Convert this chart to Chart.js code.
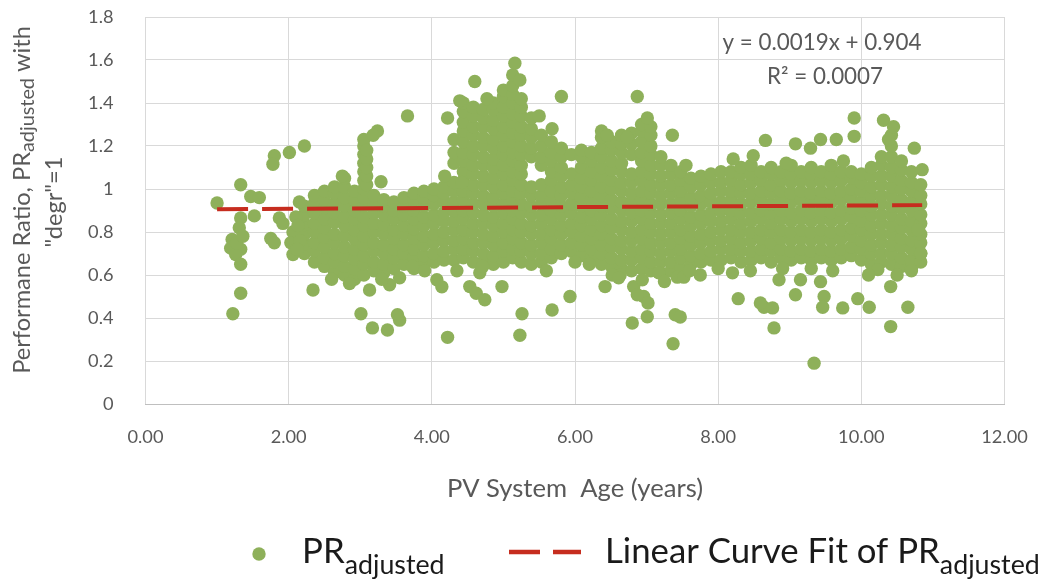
<!DOCTYPE html>
<html><head><meta charset="utf-8">
<script src="https://cdn.jsdelivr.net/npm/chart.js@4.4.1/dist/chart.umd.min.js"></script>
<style>html,body{margin:0;padding:0;background:#fff;}canvas{display:block;}</style>
</head><body>
<canvas id="c" width="1040" height="588"></canvas>
<script>
// ---------- DATA ----------
const xTickLabels = ['0.00','2.00','4.00','6.00','8.00','10.00','12.00'];
const yTickLabels = ['0','0.2','0.4','0.6','0.8','1','1.2','1.4','1.6','1.8'];

// isolated early points [age, PR]
const ageEarly = [
 [1.00,.935],[1.33,1.02],[1.47,.965],[1.59,.96],[1.52,.875],[1.33,.865],[1.31,.82],[1.21,.765],
 [1.19,.725],[1.33,.72],[1.26,.695],[1.33,.65],[1.33,.515],[1.22,.42],[1.27,.75],[1.36,.78],
 [1.75,.77],[1.80,.75],[1.80,1.155],[1.78,1.115],[2.01,1.17],[2.22,1.20],[1.87,.865],[1.92,.84],
 [2.06,.80],[2.03,.75],[2.06,.695],[2.15,.94],[2.10,.87],[2.13,.83],[2.16,.76],[2.12,.72]
];
// dense core, columns: [age, PR values...]
const coreAge2to4 = [
 [2.22,.70,.745,.79,.835,.88,.92],
 [2.36,.66,.71,.75,.80,.84,.89,.935,.97],
 [2.50,.64,.68,.73,.775,.82,.86,.91,.95,.99],
 [2.64,.61,.66,.70,.75,.79,.845,.89,.93,.98,1.01],
 [2.78,.60,.64,.69,.73,.78,.83,.87,.92,.96,1.01,1.05],
 [2.92,.58,.63,.675,.72,.77,.81,.86,.90,.95,.99],
 [3.05,.60,.65,.69,.74,.78,.83,.87,.92,.96,1.00,1.04,1.08,1.12,1.16,1.20,1.23],
 [3.09,1.02,1.06,1.10,1.14,1.18],
 [3.19,.62,.66,.71,.75,.80,.84,.89,.93,.97],
 [3.33,.61,.65,.70,.74,.79,.835,.88,.92,.95],
 [3.47,.63,.68,.72,.77,.81,.86,.90,.94],
 [3.61,.65,.70,.74,.79,.83,.88,.92,.96],
 [3.75,.63,.68,.72,.77,.815,.86,.90,.95,.98],
 [3.89,.65,.69,.74,.78,.83,.87,.92,.96,.99],
 [4.03,.66,.70,.75,.79,.84,.88,.93,.97,1.00]
];
const coreAge4to6 = [
 [4.17,.67,.71,.76,.80,.85,.89,.94,.98,1.01],
 [4.31,.67,.72,.76,.81,.85,.90,.94,.99,1.03,1.12,1.17,1.23],
 [4.44,.68,.72,.77,.81,.86,.90,.95,.99,1.04,1.08,1.13,1.17,1.22,1.27,1.31,1.36,1.40],
 [4.58,.66,.71,.75,.80,.84,.89,.93,.98,1.02,1.07,1.11,1.16,1.20,1.25,1.29,1.34,1.38],
 [4.72,.66,.70,.75,.79,.84,.88,.93,.97,1.02,1.06,1.11,1.15,1.20,1.24,1.29,1.33,1.37],
 [4.86,.65,.69,.74,.78,.83,.87,.92,.96,1.01,1.05,1.10,1.14,1.19,1.23,1.28,1.32,1.37,1.40],
 [5.00,.66,.71,.75,.80,.84,.89,.93,.98,1.02,1.07,1.11,1.16,1.20,1.25,1.29,1.34,1.38,1.43,1.46],
 [5.13,.68,.72,.77,.81,.86,.90,.95,.99,1.04,1.08,1.13,1.17,1.22,1.26,1.31,1.35,1.40,1.44,1.48,1.53],
 [5.25,.66,.71,.75,.80,.84,.89,.93,.98,1.02,1.07,1.11,1.16,1.20,1.25,1.29,1.34,1.38,1.42],
 [5.39,.65,.70,.74,.79,.83,.88,.92,.97,1.01,1.15,1.19,1.24,1.28,1.33],
 [5.53,.66,.70,.75,.79,.84,.88,.93,.97,1.02,1.11,1.15,1.20,1.25],
 [5.67,.68,.72,.77,.81,.86,.90,.95,.99,1.04,1.08,1.13,1.17,1.22],
 [5.81,.70,.74,.79,.83,.88,.92,.97,1.01,1.06,1.10,1.15,1.19],
 [5.95,.71,.75,.80,.84,.89,.93,.98,1.02,1.07,1.16]
];
const coreAge6to8 = [
 [6.09,.69,.74,.78,.83,.87,.92,.96,1.01,1.05,1.10,1.15,1.18],
 [6.23,.68,.72,.77,.81,.86,.90,.95,.99,1.04,1.08,1.13,1.17],
 [6.37,.65,.70,.74,.79,.83,.88,.92,.97,1.01,1.06,1.10,1.15,1.19,1.24,1.27],
 [6.51,.64,.68,.73,.77,.82,.86,.91,.95,1.00,1.04,1.09,1.13,1.18,1.22],
 [6.65,.63,.67,.72,.76,.81,.85,.90,.94,.99,1.03,1.08,1.12,1.17,1.21,1.25],
 [6.79,.62,.67,.71,.76,.80,.85,.89,.94,.98,1.03,1.07,1.16,1.21,1.26],
 [6.93,.63,.68,.72,.77,.81,.86,.90,.95,.99,1.04,1.08,1.13,1.17,1.22,1.27,1.30],
 [7.06,.62,.66,.71,.75,.80,.84,.89,.93,.98,1.02,1.07,1.11,1.16,1.20,1.25,1.29],
 [7.20,.61,.66,.70,.75,.79,.84,.88,.93,.97,1.02,1.06,1.11,1.15],
 [7.34,.62,.66,.71,.75,.80,.84,.89,.93,.98,1.02,1.07,1.11],
 [7.48,.63,.68,.72,.77,.81,.86,.90,.95,.99,1.04,1.08],
 [7.62,.65,.69,.74,.78,.83,.87,.92,.96,1.01,1.05],
 [7.76,.66,.70,.75,.79,.84,.88,.93,.97,1.02,1.06],
 [7.90,.67,.71,.76,.80,.85,.89,.94,.98,1.03,1.07],
 [8.04,.67,.72,.76,.81,.85,.90,.94,.99,1.03,1.08]
];
const coreAge8to11 = [
 [8.18,.68,.72,.77,.81,.86,.90,.95,.99,1.04,1.08],
 [8.32,.66,.71,.75,.80,.84,.89,.93,.98,1.02,1.07,1.10],
 [8.46,.67,.71,.76,.80,.85,.89,.94,.98,1.03,1.07,1.11],
 [8.60,.68,.72,.77,.81,.86,.90,.95,.99,1.04,1.08],
 [8.74,.66,.71,.75,.80,.84,.89,.93,.98,1.02,1.07,1.10],
 [8.88,.68,.72,.77,.81,.86,.90,.95,.99,1.04,1.08],
 [9.02,.67,.71,.76,.80,.85,.89,.94,.98,1.03,1.07,1.11],
 [9.16,.68,.72,.77,.81,.86,.90,.95,.99,1.04,1.08],
 [9.30,.67,.71,.76,.80,.85,.89,.94,.98,1.03,1.07,1.10],
 [9.44,.68,.72,.77,.81,.86,.90,.95,.99,1.04,1.08],
 [9.58,.67,.71,.76,.80,.85,.89,.94,.98,1.03,1.07,1.11],
 [9.72,.68,.72,.77,.81,.86,.90,.95,.99,1.04,1.08],
 [9.86,.69,.73,.78,.82,.87,.91,.96,1.00,1.05,1.08],
 [10.00,.67,.72,.76,.81,.85,.90,.94,.99,1.03,1.07],
 [10.14,.65,.70,.74,.79,.83,.88,.92,.97,1.01,1.06,1.10],
 [10.28,.66,.70,.75,.79,.84,.88,.93,.97,1.02,1.06,1.11,1.15],
 [10.42,.65,.70,.74,.79,.83,.88,.92,.97,1.01,1.06,1.10,1.15,1.20,1.25],
 [10.56,.64,.68,.73,.77,.82,.86,.91,.95,1.00,1.04,1.09,1.13],
 [10.70,.63,.67,.72,.76,.81,.85,.90,.94,.99,1.03,1.08],
 [10.83,.66,.70,.75,.79,.84,.88,.93,.97,1.02]
];
// scattered points above the band [age, PR]
const highPoints = [
 [2.75,1.06],[3.24,1.27],[3.18,1.25],[3.29,1.034],[3.66,1.34],[4.18,1.06],[4.22,1.33],[4.60,1.50],
 [5.16,1.585],[5.23,1.507],[4.39,1.41],[4.77,1.42],[5.81,1.43],[6.87,1.43],[7.01,1.33],[7.36,1.25],
 [6.45,1.25],[6.73,1.24],[8.66,1.226],[8.21,1.14],[8.49,1.155],[9.08,1.21],[9.29,1.19],[9.43,1.23],
 [9.65,1.23],[9.90,1.33],[9.90,1.245],[10.31,1.32],[10.45,1.29],[10.74,1.19],[10.85,1.09],
 [10.38,1.23],[5.50,1.34],[5.68,1.28],[4.42,1.03],[8.95,1.12],[9.75,1.13],[7.55,1.11]
];
// scattered points below the band [age, PR]
const lowPoints = [
 [2.34,.53],[2.85,.56],[3.13,.53],[3.01,.42],[3.17,.354],[3.38,.344],[3.52,.415],[3.55,.39],
 [3.41,.555],[3.55,.587],[3.73,.64],[4.07,.578],[4.14,.545],[4.22,.31],[4.53,.546],[4.62,.515],
 [4.74,.485],[4.98,.546],[5.26,.42],[5.23,.32],[4.67,.61],[4.71,.64],[5.68,.437],[5.93,.50],
 [6.42,.546],[6.63,.60],[6.82,.546],[6.96,.50],[7.02,.47],[6.80,.377],[7.01,.406],[7.40,.415],
 [7.37,.28],[7.43,.59],[7.17,.61],[7.75,.60],[7.52,.59],[7.47,.405],[6.52,.60],[6.61,.587],
 [6.94,.578],[6.87,.508],[8.20,.61],[8.28,.49],[8.64,.45],[8.76,.447],[8.78,.354],[8.85,.578],
 [9.08,.508],[9.15,.578],[9.43,.569],[9.48,.50],[9.46,.45],[9.74,.447],[9.34,.19],[9.95,.49],
 [10.11,.45],[10.23,.625],[10.41,.546],[10.65,.45],[10.41,.36],[10.83,.70],[10.79,.81],[8.59,.47],
 [2.60,.58],[3.30,.58],[3.90,.62],[4.35,.62],[5.60,.62],[6.00,.66],[6.20,.65],[7.25,.57],
 [7.60,.62],[8.00,.63],[8.45,.62],[8.90,.63],[9.30,.63],[9.60,.62],[10.10,.60],[10.50,.60],[10.70,.62]
];
// linear fit (y = 0.0019x + 0.904) end points as drawn
const fitAges = [1.0, 10.85];
const fitValues = [0.906, 0.925];

// ---------- BUILD ----------
const points = [];
[coreAge2to4, coreAge4to6, coreAge6to8, coreAge8to11].forEach(g => g.forEach(col => {
  for (let i = 1; i < col.length; i++) points.push({x: col[0], y: col[i]});
}));
ageEarly.concat(highPoints, lowPoints).forEach(p => points.push({x: p[0], y: p[1]}));
const fitLine = fitAges.map((a, i) => ({x: a, y: fitValues[i]}));

const FONT = 'Lato, "Open Sans", sans-serif';
const mctx = document.createElement('canvas').getContext('2d');
function fitSize(text, target) { mctx.font = '100px ' + FONT; return 100 * target / mctx.measureText(text).width; }
const GREEN = '#8eb05a', RED = '#c62d1f', GREY = '#595959';
const tickSize = fitSize('4.00', 36);
const AREA = { left: 145.5, top: 17, right: 1004.5, bottom: 404 };

const textPlugin = {
  id: 'texts',
  afterDraw(chart) {
    const ctx = chart.ctx;
    ctx.save();
    // y axis title (rotated)
    const s1 = fitSize('Performane Ratio, PR', 222);
    const s2 = fitSize('adjusted', 74);
    ctx.font = s1 + 'px ' + FONT;
    const w1 = ctx.measureText('Performane Ratio, PR').width;
    const w3 = ctx.measureText(' with').width;
    ctx.font = s2 + 'px ' + FONT;
    const w2 = ctx.measureText('adjusted').width;
    ctx.translate(0, 200);
    ctx.rotate(-Math.PI / 2);
    ctx.fillStyle = GREY;
    ctx.textBaseline = 'alphabetic';
    ctx.textAlign = 'left';
    let x0 = -(w1 + w2 + w3) / 2;
    ctx.font = s1 + 'px ' + FONT;
    ctx.fillText('Performane Ratio, PR', x0, 30);
    ctx.font = s2 + 'px ' + FONT;
    ctx.fillText('adjusted', x0 + w1, 34);
    ctx.font = s1 + 'px ' + FONT;
    ctx.fillText(' with', x0 + w1 + w2, 30);
    ctx.textAlign = 'center';
    ctx.fillText('"degr"=1', -2, 62);
    ctx.restore();

    ctx.save();
    ctx.fillStyle = GREY;
    ctx.textAlign = 'center';
    ctx.textBaseline = 'middle';
    // x axis title
    ctx.font = fitSize('PV System  Age (years)', 256) + 'px ' + FONT;
    ctx.fillText('PV System  Age (years)', 575, 489);
    // equation
    ctx.font = fitSize('y = 0.0019x + 0.904', 199) + 'px ' + FONT;
    ctx.fillText('y = 0.0019x + 0.904', 822, 43);
    ctx.fillText('R² = 0.0007', 825, 77);
    // legend
    ctx.fillStyle = GREEN;
    ctx.beginPath(); ctx.arc(259, 554, 6.7, 0, Math.PI * 2); ctx.fill();
    const ls = fitSize('Linear Curve Fit of PR', 335);
    const ss = fitSize('adjusted', 100);
    ctx.fillStyle = '#1a1a1a';
    ctx.textAlign = 'left';
    ctx.textBaseline = 'alphabetic';
    ctx.font = ls + 'px ' + FONT;
    ctx.fillText('PR', 302, 563);
    let wp = ctx.measureText('PR').width;
    ctx.font = ss + 'px ' + FONT;
    ctx.fillText('adjusted', 302 + wp, 574);
    ctx.strokeStyle = RED; ctx.lineWidth = 4.5;
    ctx.beginPath(); ctx.moveTo(509, 552); ctx.lineTo(540, 552); ctx.moveTo(553, 552); ctx.lineTo(581, 552); ctx.stroke();
    ctx.font = ls + 'px ' + FONT;
    ctx.fillText('Linear Curve Fit of PR', 605, 563);
    const wl = ctx.measureText('Linear Curve Fit of PR').width;
    ctx.font = ss + 'px ' + FONT;
    ctx.fillText('adjusted', 605 + wl, 574);
    ctx.restore();
  }
};

function zeroPad(s) { s.paddingTop = 0; s.paddingBottom = 0; s.paddingLeft = 0; s.paddingRight = 0; }

new Chart(document.getElementById('c'), {
  type: 'scatter',
  data: {
    datasets: [
      { type: 'line', label: 'Linear Curve Fit of PR adjusted', data: fitLine, order: 0,
        borderColor: RED, borderWidth: 4, borderDash: [31, 14], pointRadius: 0, fill: false, tension: 0 },
      { label: 'PR adjusted', data: points, order: 1, backgroundColor: GREEN, borderWidth: 0,
        pointRadius: 6.7, pointHoverRadius: 6.7 }
    ]
  },
  options: {
    responsive: false, animation: false,
    layout: { autoPadding: false, padding: { top: AREA.top, right: 1040 - AREA.right, left: 0, bottom: 0 } },
    plugins: { legend: { display: false }, tooltip: { enabled: false } },
    scales: {
      x: { type: 'linear', min: 0, max: 12,
        afterBuildTicks: s => { s.ticks = xTickLabels.map((t, i) => ({value: i * 2})); },
        ticks: { callback: (v, i) => xTickLabels[i], color: GREY, font: { family: FONT, size: tickSize }, padding: 22, maxRotation: 0 },
        grid: { color: '#d9d9d9', lineWidth: 1, drawTicks: false },
        border: { display: true, color: '#bfbfbf' },
        afterFit: s => { s.height = 588 - AREA.bottom; zeroPad(s); } },
      y: { type: 'linear', min: 0, max: 1.8,
        afterBuildTicks: s => { s.ticks = yTickLabels.map((t, i) => ({value: i * 0.2})); },
        ticks: { callback: (v, i) => yTickLabels[i], color: GREY, font: { family: FONT, size: tickSize }, padding: 32 },
        grid: { color: '#d9d9d9', lineWidth: 1, drawTicks: false },
        border: { display: false },
        afterFit: s => { s.width = AREA.left; zeroPad(s); } }
    }
  },
  plugins: [textPlugin]
});
</script>
</body></html>
